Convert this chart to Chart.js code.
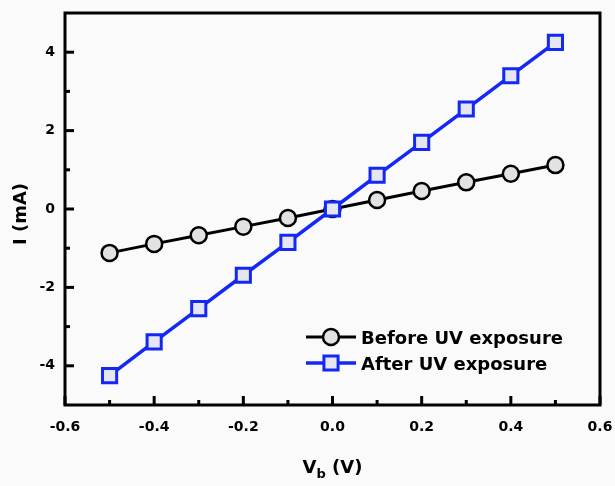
<!DOCTYPE html>
<html>
<head>
<meta charset="utf-8">
<script src="https://cdn.jsdelivr.net/npm/chart.js@4/dist/chart.umd.min.js"></script>
<style>
  html, body { margin: 0; padding: 0; background: #fafafa; }
  canvas { display: block; }
</style>
</head>
<body>
<canvas id="iv" width="615" height="486"></canvas>
<script>
// Bias voltage (V) and measured current (mA)
const biasVoltages  = [-0.5, -0.4, -0.3, -0.2, -0.1, 0, 0.1, 0.2, 0.3, 0.4, 0.5];
const currentBefore = [-1.12, -0.89, -0.67, -0.45, -0.23, 0, 0.23, 0.46, 0.68, 0.90, 1.12];
const currentAfter  = [-4.25, -3.39, -2.54, -1.69, -0.85, 0, 0.86, 1.70, 2.55, 3.40, 4.25];

const seriesLabels = ['Before UV exposure', 'After UV exposure'];
const xTickValues  = [-0.6, -0.4, -0.2, 0, 0.2, 0.4, 0.6];
const xMinorValues = [-0.5, -0.3, -0.1, 0.1, 0.3, 0.5];
const yTickValues  = [-4, -2, 0, 2, 4];
const yMinorValues = [-3, -1, 1, 3];
const xTitleParts  = ['V', 'b', ' (V)'];
const yTitle       = 'I (mA)';

const FONT = '"DejaVu Sans", "Liberation Sans", Arial, sans-serif';
const BLUE = '#1428f5';

const toPoints = ys => biasVoltages.map((x, i) => ({ x, y: ys[i] }));

// Frame, inward tick marks, axis titles and the inset legend
const decorations = {
  id: 'decorations',
  afterDraw(chart) {
    const { ctx, chartArea: a, scales: { x, y } } = chart;
    ctx.save();
    ctx.strokeStyle = '#000';
    ctx.lineWidth = 3;
    ctx.lineCap = 'butt';
    ctx.strokeRect(a.left, a.top, a.right - a.left, a.bottom - a.top);

    const tick = (px, py, dx, dy) => {
      ctx.beginPath(); ctx.moveTo(px, py); ctx.lineTo(px + dx, py + dy); ctx.stroke();
    };
    xTickValues.forEach(v => tick(x.getPixelForValue(v), a.bottom, 0, -9));
    xMinorValues.forEach(v => tick(x.getPixelForValue(v), a.bottom, 0, -5));
    yTickValues.forEach(v => tick(a.left, y.getPixelForValue(v), 9, 0));
    yMinorValues.forEach(v => tick(a.left, y.getPixelForValue(v), 5, 0));

    // x-axis title with subscript
    ctx.fillStyle = '#000';
    ctx.textBaseline = 'alphabetic';
    const big = 'bold 18px ' + FONT, small = 'bold 13px ' + FONT;
    ctx.font = big;  const w0 = ctx.measureText(xTitleParts[0]).width;
    ctx.font = small; const w1 = ctx.measureText(xTitleParts[1]).width;
    ctx.font = big;  const w2 = ctx.measureText(xTitleParts[2]).width;
    let tx = (a.left + a.right) / 2 - (w0 + w1 + w2) / 2;
    ctx.textAlign = 'left';
    ctx.font = big;   ctx.fillText(xTitleParts[0], tx, 473); tx += w0;
    ctx.font = small; ctx.fillText(xTitleParts[1], tx, 478); tx += w1;
    ctx.font = big;   ctx.fillText(xTitleParts[2], tx, 473);

    // y-axis title
    ctx.save();
    ctx.translate(26, (a.top + a.bottom) / 2 + 5);
    ctx.rotate(-Math.PI / 2);
    ctx.textAlign = 'center';
    ctx.font = big;
    ctx.fillText(yTitle, 0, 0);
    ctx.restore();

    // legend
    const rows = [
      { y: 337, ds: chart.data.datasets[1] },
      { y: 363, ds: chart.data.datasets[0] }
    ];
    rows.forEach(r => {
      const d = r.ds;
      ctx.strokeStyle = d.borderColor;
      ctx.lineWidth = d.borderWidth;
      ctx.beginPath(); ctx.moveTo(306, r.y); ctx.lineTo(356, r.y); ctx.stroke();
      ctx.fillStyle = d.pointBackgroundColor;
      ctx.strokeStyle = d.pointBorderColor;
      ctx.lineWidth = d.pointBorderWidth;
      ctx.beginPath();
      if (d.pointStyle === 'circle') {
        ctx.arc(331, r.y, d.pointRadius, 0, Math.PI * 2);
      } else {
        const s = d.pointRadius * Math.SQRT1_2;
        ctx.rect(331 - s, r.y - s, 2 * s, 2 * s);
      }
      ctx.fill(); ctx.stroke();
      ctx.fillStyle = '#000';
      ctx.textAlign = 'left';
      ctx.font = 'bold 18px ' + FONT;
      ctx.fillText(d.label, 361, r.y + 7);
    });
    ctx.restore();
  }
};

new Chart(document.getElementById('iv'), {
  type: 'line',
  data: {
    datasets: [
      {
        label: seriesLabels[1],
        data: toPoints(currentAfter),
        borderColor: BLUE,
        borderWidth: 3.5,
        pointStyle: 'rect',
        pointRadius: 10,
        pointBorderWidth: 3,
        pointBorderColor: BLUE,
        pointBackgroundColor: '#e6e6f2',
        order: 0
      },
      {
        label: seriesLabels[0],
        data: toPoints(currentBefore),
        borderColor: '#000',
        borderWidth: 3,
        pointStyle: 'circle',
        pointRadius: 8,
        pointBorderWidth: 2.5,
        pointBorderColor: '#000',
        pointBackgroundColor: '#e2e2e2',
        order: 1
      }
    ]
  },
  options: {
    responsive: false,
    animation: false,
    devicePixelRatio: 1,
    layout: { padding: { left: 0, top: 10, right: 15, bottom: 0 } },
    plugins: { legend: { display: false }, tooltip: { enabled: false } },
    scales: {
      x: {
        type: 'linear',
        min: -0.6, max: 0.6,
        grid: { display: false, drawTicks: false },
        border: { display: false },
        afterBuildTicks: s => { s.ticks = xTickValues.map(v => ({ value: v })); },
        afterFit: s => { s.height = 81; s.paddingLeft = 0; s.paddingRight = 0; },
        ticks: {
          padding: 14,
          color: '#000',
          font: { family: FONT, size: 14, weight: 'bold' },
          maxRotation: 0,
          callback: v => (Math.abs(v) < 1e-9 ? 0 : v).toFixed(1)
        }
      },
      y: {
        type: 'linear',
        min: -5, max: 5,
        grid: { display: false, drawTicks: false },
        border: { display: false },
        afterBuildTicks: s => { s.ticks = yTickValues.map(v => ({ value: v })); },
        afterFit: s => { s.width = 65; s.paddingTop = 0; s.paddingBottom = 0; },
        ticks: {
          padding: 10,
          color: '#000',
          font: { family: FONT, size: 14, weight: 'bold' },
          callback: v => String(v)
        }
      }
    }
  },
  plugins: [decorations]
});
</script>
</body>
</html>
